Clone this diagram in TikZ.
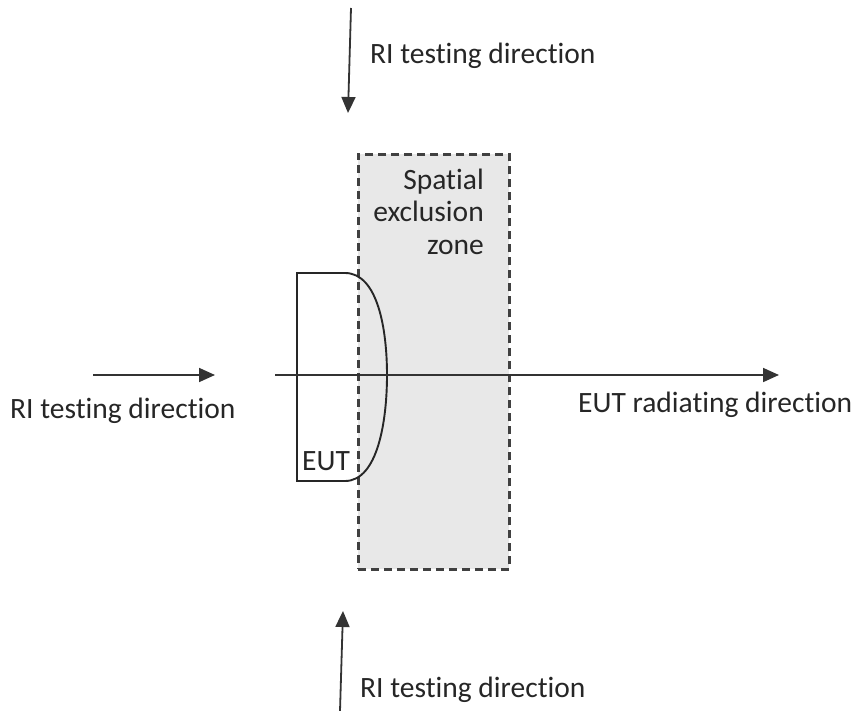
\documentclass[tikz,border=0pt]{standalone}
\usepackage{fontspec}
\setmainfont{Carlito}[Ligatures=NoCommon]
\usetikzlibrary{arrows.meta}
\begin{document}
\begin{tikzpicture}[x=1pt,y=-1pt,
  lbl/.style={inner sep=0pt,font=\fontsize{29.5}{33}\selectfont,text=black!85},
  arr/.style={-{Triangle[length=16pt,width=14pt]},line width=1.8pt,draw=black!80}]
\useasboundingbox (0,0) rectangle (859,711);
% exclusion zone
\node[draw=black!75,dash pattern=on 8pt off 5pt,line width=2.8pt,fill=black!9,
  minimum width=151pt,minimum height=415pt,inner sep=0pt,anchor=north west] (zone) at (357,153) {};
\node[lbl,anchor=base east,align=right] (zonelbl) at (484,255) {Spatial\\exclusion\\zone};
% EUT
\draw[line width=1.9pt,draw=black!85] (297,273) -- (345,273)
  .. controls (378,273) and (387,330) .. (387,375)
  .. controls (387,420) and (378,481) .. (345,481) -- (297,481) -- cycle;
\node[lbl,anchor=base west] (eut) at (302,470) {EUT};
% axis
\coordinate (a0) at (275,375);
\coordinate (a1) at (779,375);
\draw[arr] (a0) -- (a1);
\node[lbl,anchor=base west] (radlbl) at (578,412) {EUT radiating direction};
% top arrow
\coordinate (t0) at (351,8);
\coordinate (t1) at (348,113);
\draw[arr] (t0) -- (t1);
\node[lbl,anchor=base west] (toplbl) at (370,64) {RI testing direction};
% left arrow
\coordinate (l0) at (93,375);
\coordinate (l1) at (215,375);
\draw[arr] (l0) -- (l1);
\node[lbl,anchor=base west] (leftlbl) at (10,418) {RI testing direction};
% bottom arrow
\coordinate (b0) at (340,711);
\coordinate (b1) at (343,611);
\draw[arr] (b0) -- (b1);
\node[lbl,anchor=base west] (botlbl) at (360,697) {RI testing direction};
\end{tikzpicture}
\end{document}
